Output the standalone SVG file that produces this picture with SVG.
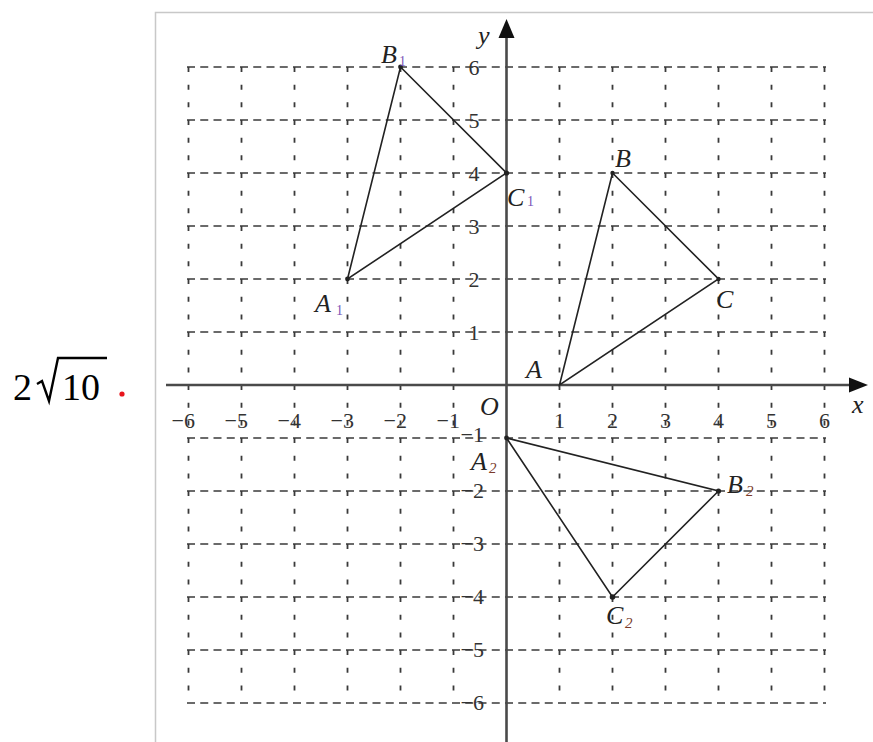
<svg xmlns="http://www.w3.org/2000/svg" width="873" height="742" viewBox="0 0 873 742">
<style>
.gh{stroke:#3a3a3a;stroke-width:1.6;stroke-dasharray:8 5.25;fill:none}
.gv{stroke:#3a3a3a;stroke-width:1.8;stroke-dasharray:5 12.67;fill:none}
.ax{stroke:#4a4a4a;stroke-width:2.6;fill:none}
.tri{stroke:#222;stroke-width:1.6;fill:none}
.num{font-family:"Liberation Serif",serif;font-size:22px;fill:#333}
.lab{font-family:"Liberation Serif",serif;font-size:26px;font-style:italic;fill:#222}
.sub{font-family:"Liberation Serif",serif;font-size:14px;fill:#7a55b8}
.sub2{font-family:"Liberation Serif",serif;font-size:15px;font-style:italic;fill:#7a3a2a}
.big{font-family:"Liberation Serif",serif;font-size:38px;fill:#000}
</style>
<rect width="873" height="742" fill="#fff"/>
<path d="M155.5 742 V12.5 H873" stroke="#c8c8c8" stroke-width="1.5" fill="none"/>
<g id="answer">
<text class="big" x="13" y="400">2</text>
<path d="M37 384 L42 381 L49 401 L58 358 H107" stroke="#000" stroke-width="2.4" fill="none"/>
<text class="big" x="62" y="400">10</text>
<circle cx="122" cy="394" r="2.6" fill="#e8141c"/>
</g>
<g id="grid">
<path class="gh" d="M187 67H826M187 120H826M187 173H826M187 226H826M187 279H826M187 332H826M187 438H826M187 491H826M187 544H826M187 597H826M187 650H826M187 703H826"/>
<path class="gv" d="M188.5 67V703M241.5 67V703M294.5 67V703M347.5 67V703M400.5 67V703M453.5 67V703M559.5 67V703M612.5 67V703M665.5 67V703M718.5 67V703M771.5 67V703M824.5 67V703"/>
</g>
<g id="axes">
<path class="ax" d="M166 385H852"/>
<polygon points="868,385 849,377.5 849,392.5" fill="#111"/>
<path class="ax" d="M506.5 742V36"/>
<polygon points="506.5,19 498.5,38 514.5,38" fill="#111"/>
<text class="lab" x="478" y="44" font-size="28">y</text>
<text class="lab" x="852" y="413">x</text>
<text class="lab" x="480" y="415">O</text>
</g>
<g id="xnums" class="num" text-anchor="middle">
<text x="559.5" y="428">1</text>
<text x="612.5" y="428">2</text>
<text x="665.5" y="428">3</text>
<text x="718.5" y="428">4</text>
<text x="771.5" y="428">5</text>
<text x="824.5" y="428">6</text>
</g>
<g id="xnegnums" class="num" text-anchor="end">
<text x="195" y="428">−6</text>
<text x="248" y="428">−5</text>
<text x="301" y="428">−4</text>
<text x="354" y="428">−3</text>
<text x="407" y="428">−2</text>
<text x="460" y="428">−1</text>
</g>
<g id="ynums" class="num" text-anchor="middle">
<text x="474" y="75">6</text>
<text x="474" y="128">5</text>
<text x="474" y="181">4</text>
<text x="474" y="234">3</text>
<text x="474" y="287">2</text>
<text x="474" y="340">1</text>
</g>
<g id="ynegnums" class="num" text-anchor="end">
<text x="484" y="442">−1</text>
<text x="484" y="498">−2</text>
<text x="484" y="551">−3</text>
<text x="484" y="604">−4</text>
<text x="484" y="657">−5</text>
<text x="484" y="710">−6</text>
</g>
<g id="triangleABC">
<polygon class="tri" points="559.5,385 612.5,173 718.5,279"/>
<circle cx="612.5" cy="173" r="2.2" fill="#222"/>
<circle cx="718.5" cy="279" r="2.2" fill="#222"/>
<text class="lab" x="526" y="378">A</text>
<text class="lab" x="615" y="167">B</text>
<text class="lab" x="716" y="308">C</text>
</g>
<g id="triangleA1B1C1">
<polygon class="tri" points="347.5,279 400.5,67 506.5,173"/>
<circle cx="347.5" cy="279" r="2.4" fill="#222"/>
<circle cx="400.5" cy="67" r="2.4" fill="#222"/>
<circle cx="506.5" cy="173" r="2.6" fill="#222"/>
<text class="lab" x="381" y="63" fill="#5a4030">B</text>
<text class="sub" x="399" y="66">1</text>
<text class="lab" x="507" y="206">C</text>
<text class="sub" x="527" y="206">1</text>
<text class="lab" x="315" y="312">A</text>
<text class="sub" x="336" y="315">1</text>
</g>
<g id="triangleA2B2C2">
<polygon class="tri" points="506.5,438 718.5,491 612.5,597"/>
<circle cx="506.5" cy="438" r="2.4" fill="#222"/>
<circle cx="718.5" cy="491" r="2.6" fill="#222"/>
<circle cx="612.5" cy="597" r="2.8" fill="#222"/>
<text class="lab" x="471" y="470">A</text>
<text class="sub2" x="489" y="473">2</text>
<text class="lab" x="727" y="493">B</text>
<text class="sub2" x="746" y="496">2</text>
<text class="lab" x="606" y="624">C</text>
<text class="sub2" x="625" y="628">2</text>
</g>
</svg>
